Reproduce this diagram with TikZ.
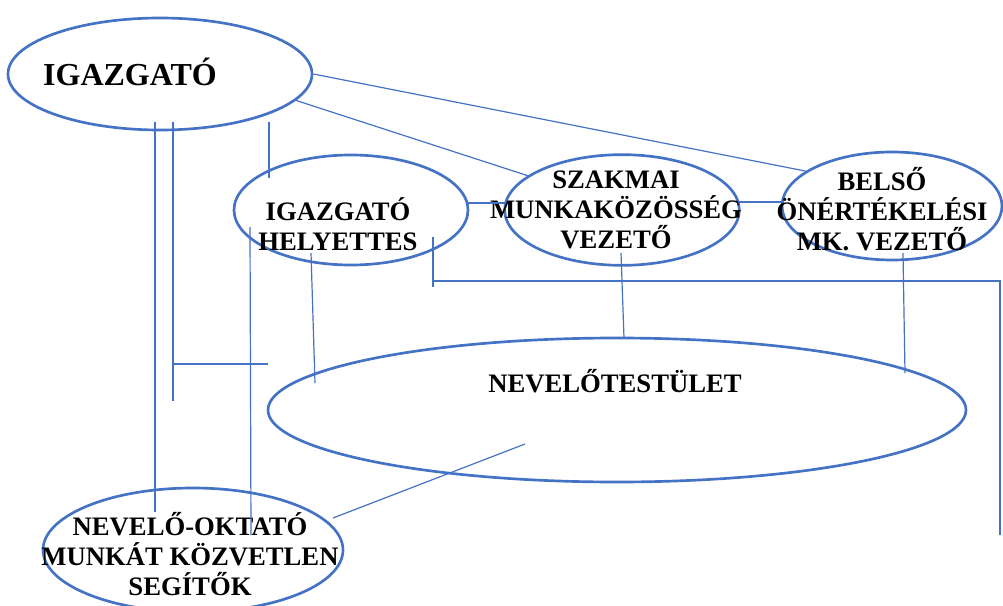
\documentclass[tikz,border=0pt]{standalone}
\usepackage{fontspec}
\setmainfont{Liberation Serif}
\usetikzlibrary{shapes.geometric,positioning}
\definecolor{ofblue}{HTML}{4472C4}
\tikzset{bubble/.style={ellipse,draw=ofblue,line width=2pt,inner sep=0pt}}
\tikzset{lbl/.style={font=\fontsize{20}{22.5}\selectfont\bfseries,align=center,inner sep=0pt}}
\tikzset{link/.style={draw=ofblue,line width=0.9pt}}

\begin{document}
\begin{tikzpicture}[x=0.75pt,y=-0.75pt,on grid]
        \useasboundingbox (0,0) rectangle (1003,606);
        % ellipses
        \node(ig)[bubble,minimum width=228pt,minimum height=84pt] at (160,74) {};
        \node(hely)[bubble,minimum width=175.5pt,minimum height=82.5pt,below right=102pt and 143.25pt of ig] {};
        \node(szak)[bubble,minimum width=176pt,minimum height=83pt,right=203.25pt of hely] {};
        \node(bels)[bubble,minimum width=165pt,minimum height=81pt,above right=3pt and 202.5pt of szak] {};
        \node(nev)[bubble,minimum width=523.5pt,minimum height=108pt,below left=150pt and 3.75pt of szak] {};
        \node(seg)[bubble,minimum width=225pt,minimum height=93pt,below right=357pt and 24.75pt of ig] {};
        % texts
        \node(igtext)[lbl,font=\fontsize{24}{27}\selectfont\bfseries] at ([shift={(-30,-2)}]ig.center) {IGAZGATÓ};
        \node(helytext)[lbl] at ([shift={(-13,14)}]hely.center) {IGAZGATÓ\\HELYETTES};
        \node(szaktext)[lbl] at ([shift={(-6,0)}]szak.center) {SZAKMAI\\MUNKAKÖZÖSSÉG\\VEZETŐ};
        \node(belstext)[lbl] at ([shift={(-10,3)}]bels.center) {BELSŐ\\ÖNÉRTÉKELÉSI\\MK. VEZETŐ};
        \node(nevtext)[lbl] at ([shift={(-2,-29)}]nev.center) {NEVELŐTESTÜLET};
        \node(segtext)[lbl] at ([shift={(-3,4)}]seg.center) {NEVELŐ-OKTATÓ\\MUNKÁT KÖZVETLEN\\SEGÍTŐK};
        % free ends
        \coordinate(igA) at (155,122);
        \coordinate(segA) at (155,512);
        \coordinate(igB) at (173,122);
        \coordinate(nevB) at (173,401);
        \coordinate(nevBa) at (173,364);
        \coordinate(nevBb) at (268,364);
        \coordinate(igC) at (269,122);
        \coordinate(helyC) at (269,178);
        \coordinate(helyD) at (250,227);
        \coordinate(segD) at (251,535);
        \coordinate(helyE) at (311,253);
        \coordinate(nevE) at (315,383);
        \coordinate(helyF) at (468,203);
        \coordinate(szakF) at (506,203);
        \coordinate(szakG) at (738,202);
        \coordinate(belsG) at (782,202);
        \coordinate(helyK) at (433,237);
        \coordinate(helyKa) at (433,287);
        \coordinate(kTurn) at (433,281);
        \coordinate(kCorner) at (1000,281);
        \coordinate(kEnd) at (1000,535);
        \coordinate(szakH) at (621,253);
        \coordinate(nevH) at (624,338);
        \coordinate(belsJ) at (903,253);
        \coordinate(nevJ) at (905,373);
        \coordinate(segL) at (333,518);
        \coordinate(nevL) at (525,444);
        % connectors
        \draw[link] (ig.east) -- (bels.158);
        \draw[link] (ig.-11) -- (szak.160);
        \draw[link] (igA) -- (segA);
        \draw[link] (igB) -- (nevB);
        \draw[link] (nevBa) -- (nevBb);
        \draw[link] (igC) -- (helyC);
        \draw[link] (helyD) -- (segD);
        \draw[link] (helyE) -- (nevE);
        \draw[link] (helyF) -- (szakF);
        \draw[link] (szakG) -- (belsG);
        \draw[link] (helyK) -- (helyKa);
        \draw[link] (kTurn) -- (kCorner) -- (kEnd);
        \draw[link] (szakH) -- (nevH);
        \draw[link] (belsJ) -- (nevJ);
        \draw[link] (segL) -- (nevL);
      \end{tikzpicture}
\end{document}
